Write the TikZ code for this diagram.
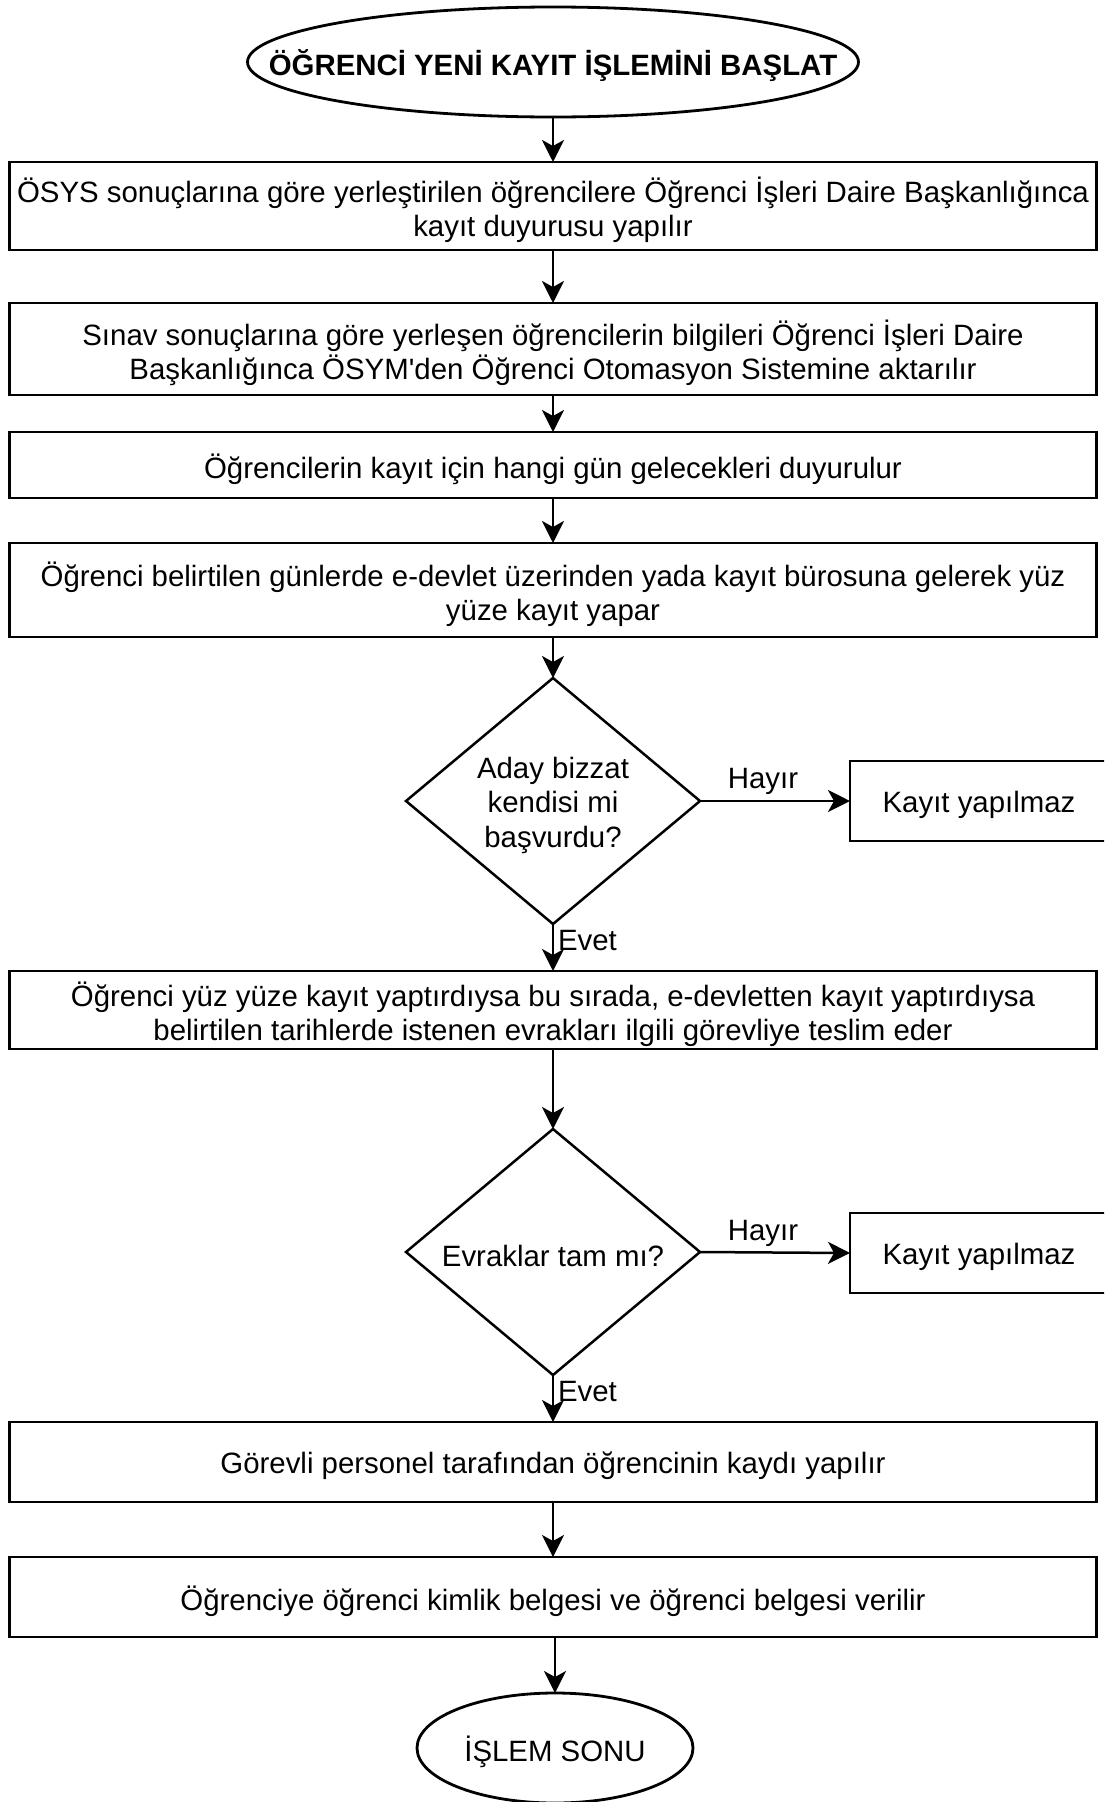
\documentclass[tikz,border=0pt]{standalone}
\usepackage{fontspec}
\setmainfont{Liberation Sans}
\usetikzlibrary{shapes.geometric,arrows.meta}
% straight apostrophe, kept out of the TeX quote mapping
\newcommand\straightquote{\XeTeXglyph\XeTeXcharglyph"27\relax}
% centred lines of text, set a little low, taking no width of their own
\newcommand\nodetext[1]{\raisebox{-4pt}[\height][\depth]{\makebox[0pt]{\parbox{1200pt}{\centering #1}}}}
\begin{document}
\begin{tikzpicture}[x=1pt,y=-1pt,
  every node/.style={font=\fontsize{29.4}{34.5}\selectfont, inner sep=0pt, outer sep=0pt, align=center},
  process/.style={draw, line width=2.8pt, rectangle, minimum width=1087pt},
  rejectbox/.style={draw, line width=2.8pt, rectangle, minimum width=258pt, minimum height=80pt},
  decision/.style={draw, line width=2.5pt, diamond, aspect=1.2, minimum width=294pt, minimum height=246pt},
  terminal/.style={draw, line width=2.8pt, ellipse},
  flow/.style={line width=2.5pt, -{Stealth[length=22pt 0, width=22pt 0, inset=6pt 0]}},
  edgelabel/.style={font=\fontsize{29.4}{34.5}\selectfont}
]
\useasboundingbox (0,0) rectangle (1104,1802);
\clip (0,0) rectangle (1104,1802);

% steps of the registration flow
\node[terminal, minimum width=611pt, minimum height=110pt] (start) at (553,62)
  {\nodetext{\bfseries ÖĞRENCİ YENİ KAYIT İŞLEMİNİ BAŞLAT}};
\node[process, minimum height=88pt] (b1) at (553,206)
  {\nodetext{ÖSYS sonuçlarına göre yerleştirilen öğrencilere Öğrenci İşleri Daire Başkanlığınca\\kayıt duyurusu yapılır}};
\node[process, minimum height=92pt] (b2) at (553,349)
  {\nodetext{Sınav sonuçlarına göre yerleşen öğrencilerin bilgileri Öğrenci İşleri Daire\\Başkanlığınca ÖSYM\straightquote den Öğrenci Otomasyon Sistemine aktarılır}};
\node[process, minimum height=66pt] (b3) at (553,465)
  {\nodetext{Öğrencilerin kayıt için hangi gün gelecekleri duyurulur}};
\node[process, minimum height=94pt] (b4) at (553,590)
  {\nodetext{Öğrenci belirtilen günlerde e-devlet üzerinden yada kayıt bürosuna gelerek yüz\\yüze kayıt yapar}};
\node[decision] (d1) at (553,801) {\nodetext{Aday bizzat\\kendisi mi\\başvurdu?}};
\node[rejectbox] (r1) at (979,801) {\nodetext{Kayıt yapılmaz}};
\node[process, minimum height=78pt] (b5) at (553,1010)
  {\nodetext{Öğrenci yüz yüze kayıt yaptırdıysa bu sırada, e-devletten kayıt yaptırdıysa\\belirtilen tarihlerde istenen evrakları ilgili görevliye teslim eder}};
\node[decision] (d2) at (553,1252) {\nodetext{Evraklar tam mı?}};
\node[rejectbox] (r2) at (979,1253) {\nodetext{Kayıt yapılmaz}};
\node[process, minimum height=80pt] (b6) at (553,1462)
  {\nodetext{Görevli personel tarafından öğrencinin kaydı yapılır}};
\node[process, minimum height=80pt] (b7) at (553,1597)
  {\nodetext{Öğrenciye öğrenci kimlik belgesi ve öğrenci belgesi verilir}};
\node[terminal, minimum width=276pt, minimum height=110pt] (end) at (555,1748)
  {\nodetext{İŞLEM SONU}};

% connectors
\draw[flow] (start.south) -- (b1.north);
\draw[flow] (b1.south) -- (b2.north);
\draw[flow] (b2.south) -- (b3.north);
\draw[flow] (b3.south) -- (b4.north);
\draw[flow] (b4.south) -- (d1.north);
\draw[flow] (d1.east) -- node[edgelabel, above=6pt, xshift=-12pt] {Hayır} (r1.west);
\draw[flow] (d1.south) -- node[edgelabel, right=5pt, pos=0.35] {Evet} (b5.north);
\draw[flow] (b5.south) -- (d2.north);
\draw[flow] (d2.east) -- node[edgelabel, above=6pt, xshift=-12pt] {Hayır} (r2.west);
\draw[flow] (d2.south) -- node[edgelabel, right=5pt, pos=0.35] {Evet} (b6.north);
\draw[flow] (b6.south) -- (b7.north);
\draw[flow] (b7.south -| end.north) -- (end.north);
\end{tikzpicture}
\end{document}
